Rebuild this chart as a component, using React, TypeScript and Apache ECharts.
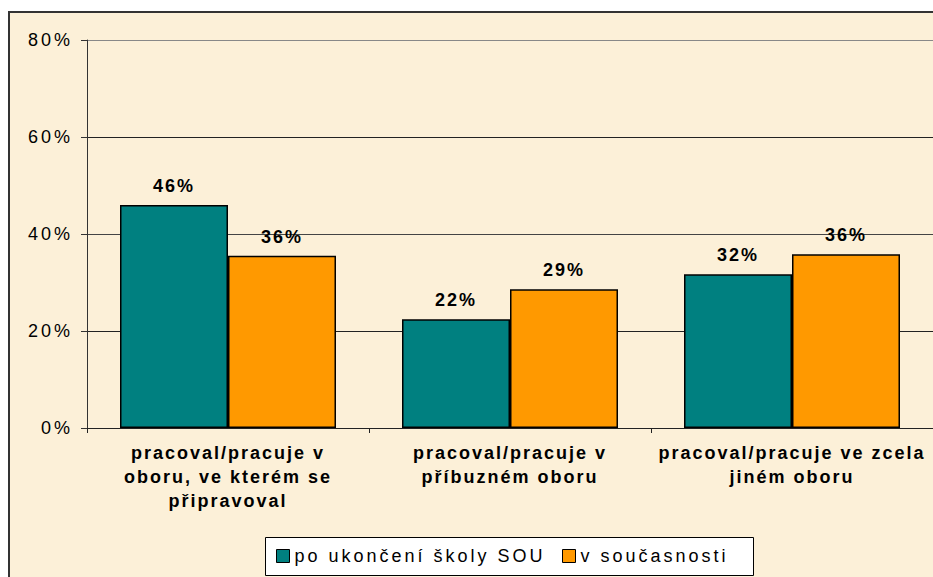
import React, { useEffect, useRef } from "react";
import * as echarts from "echarts";

const categories = [
  "pracoval/pracuje v\noboru, ve kterém se\npřipravoval",
  "pracoval/pracuje v\npříbuzném oboru",
  "pracoval/pracuje ve zcela\njiném oboru",
];
const seriesNames = ["po ukončení školy SOU", "v současnosti"];
const poUkonceni = [46, 22.4, 31.7];
const vSoucasnosti = [35.5, 28.6, 35.8];
const yTicks = { min: 0, max: 80, interval: 20 };

const FONT = "'Liberation Sans', Arial, sans-serif";

export default function App() {
  const ref = useRef<HTMLDivElement>(null);
  useEffect(() => {
    if (!ref.current) return;
    const chart = echarts.init(ref.current, undefined, { renderer: "svg" });
    const label = {
      show: true,
      position: "top" as const,
      distance: 10,
      formatter: (p: any) => `${Math.round(p.value)}%`,
      color: "#000",
      fontWeight: "bold" as const,
      fontSize: 18,
      fontFamily: FONT,
    };
    const legendCommon = {
      top: 547,
      orient: "horizontal" as const,
      padding: 0,
      itemWidth: 13,
      itemHeight: 13,
      icon: "rect",
      textStyle: { fontSize: 18, color: "#000", fontFamily: FONT },
      itemStyle: { borderColor: "#000", borderWidth: 1 },
    };
    chart.setOption({
      animation: false,
      backgroundColor: "#ffffff",
      textStyle: { fontFamily: FONT },
      graphic: [
        {
          type: "rect",
          z: -10,
          silent: true,
          shape: { x: 9, y: 12, width: 1000, height: 1000 },
          style: { fill: "#FCF0D8", stroke: "#333", lineWidth: 2 },
        },
        {
          type: "rect",
          z: -5,
          silent: true,
          shape: { x: 265.5, y: 537.5, width: 488, height: 38 },
          style: { fill: "#ffffff", stroke: "#000", lineWidth: 1 },
        },
      ],
      grid: { left: 87, top: 40, width: 849, height: 388, containLabel: false },
      legend: [
        { ...legendCommon, left: 276, data: [seriesNames[0]] },
        { ...legendCommon, left: 562, data: [seriesNames[1]] },
      ],
      xAxis: {
        type: "category",
        data: categories,
        axisLine: { lineStyle: { color: "#222", width: 1 } },
        axisTick: { show: true, length: 5, lineStyle: { color: "#222" } },
        axisLabel: {
          interval: 0,
          margin: 13,
          color: "#000",
          fontWeight: "bold",
          fontSize: 18,
          lineHeight: 24,
          fontFamily: FONT,
          align: "center",
        },
      },
      yAxis: {
        type: "value",
        min: yTicks.min,
        max: yTicks.max,
        interval: yTicks.interval,
        axisLine: { show: true, lineStyle: { color: "#333", width: 1 } },
        axisTick: { show: true, length: 6, lineStyle: { color: "#333" } },
        axisLabel: {
          formatter: "{value}%",
          margin: 14,
          color: "#000",
          fontSize: 18,
          fontFamily: FONT,
        },
        splitLine: {
          show: true,
          lineStyle: { color: ["#333", "#222", "#444", "#222", "#888"], width: 1 },
        },
      },
      series: [
        {
          name: seriesNames[0],
          type: "bar",
          data: poUkonceni,
          barWidth: 108,
          barGap: "0%",
          itemStyle: { color: "#008080", borderColor: "#000", borderWidth: 1.5 },
          label,
        },
        {
          name: seriesNames[1],
          type: "bar",
          data: vSoucasnosti,
          barWidth: 108,
          barGap: "0%",
          itemStyle: { color: "#FF9900", borderColor: "#000", borderWidth: 1.5 },
          label,
        },
      ],
    });
    return () => chart.dispose();
  }, []);
  return (
    <>
      <style>{`.chart-host svg text { letter-spacing: 3px; }
.chart-host svg text[style*="bold"] { letter-spacing: 2px; }`}</style>
      <div
        ref={ref}
        className="chart-host"
        style={{ position: "fixed", left: 0, top: 0, width: 933, height: 577 }}
      />
    </>
  );
}
